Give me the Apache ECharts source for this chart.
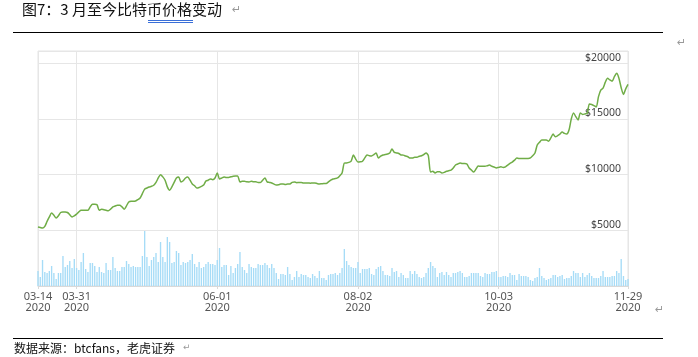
<!DOCTYPE html>
<html><head><meta charset="utf-8">
<script src="https://cdn.jsdelivr.net/npm/echarts@6/dist/echarts.min.js"></script>
<style>html,body{margin:0;padding:0;background:#fff}#c{width:698px;height:357px}</style>
</head><body><div id="c"></div>
<script>
// ---- data ----
const startDate = '2020-03-14';
const dayCount = 261;
const tickLabels = ['03-14','03-31','06-01','08-02','10-03','11-29'];
const priceUSD = [
5300,5250,5200,5350,5800,6200,6550,6350,6100,6300,
6600,6650,6650,6600,6400,6200,6300,6450,6650,6800,
6800,6800,6800,7100,7350,7350,7300,6800,6900,6850,
6800,6750,6900,7100,7180,7250,7250,7100,6900,7200,
7540,7600,7600,7630,7750,7900,8300,8700,8800,8890,
8950,9050,9300,9700,10000,9800,9500,8900,8600,8900,
9300,9700,9790,9340,9450,9700,9790,9500,9160,9000,
8800,8850,8950,9070,9430,9500,9610,9550,9700,10150,
9610,9700,9790,9750,9750,9800,9850,9880,9880,9340,
9400,9400,9350,9340,9400,9350,9350,9300,9300,9500,
9700,9350,9300,9250,9150,9070,9100,9150,9150,9120,
9150,9160,9300,9340,9280,9300,9300,9250,9250,9250,
9230,9250,9250,9200,9160,9180,9200,9200,9350,9500,
9610,9650,9700,9900,10150,11040,11050,11100,11220,11760,
11400,11130,11150,11200,11500,11760,11700,11670,11800,11940,
11490,11650,11760,11800,11850,11940,12300,12000,11950,11900,
11760,11750,11670,11600,11490,11500,11550,11550,11650,11700,
11800,11940,11700,10230,10300,10150,10250,10250,10150,10200,
10300,10350,10410,10600,10860,10950,11040,11000,11000,10950,
10600,10410,10230,10500,10770,10750,10750,10750,10800,10860,
10750,10680,10600,10650,10700,10650,10700,10860,11000,11130,
11300,11490,11450,11450,11450,11450,11450,11500,11700,11940,
12660,12900,13100,13100,13100,13000,13300,13640,13400,13500,
13640,13820,13700,13640,14000,15000,15540,15200,14910,15540,
15400,15450,15500,16340,16300,16200,16070,17000,17590,17770,
18300,18660,18500,18390,18800,19100,18660,17800,17200,17700,
18100
];
const volumeMarch_Jun = [
15,9,26,14,13,15,20,13,7,13, 13,30,19,21,25,18,27,18,16,24,
33,17,14,23,23,20,14,19,14,13, 23,16,16,29,18,15,15,19,19,25,
22,19,20,19,19,19,30,55,29,20, 26,29,33,24,44,29,24,49,44,23,
24,35,33,21,24,23,24,26,32,22, 19,24,18,19,22,24,22,22,21,26,
38,19,21,21,11,20,13,18,22,34, 19,16,13,22
];
const volumeJun_Oct = [
19,18,18,22,21,21,23,21,18,22, 18,13,7,12,12,11,19,12,6,9,
15,9,12,11,11,9,8,12,10,8, 15,8,8,6,11,12,12,13,11,13,
18,37,25,21,19,18,18,24,13,17, 17,17,18,12,11,17,19,20,15,11,
11,10,18,14,15,9,13,11,8,8, 15,12,15,12,9,8,9,13,18,24,
20,18,9,13,14,11,14,11,9,13, 13,14,15,13,9,9,10,13,13,13,
13,10,9,13,12,12,14,14,15,9
];
const volumeOct_Nov = [
9,10,10,9,13,11,11,6,12,10, 10,10,9,6,5,8,9,18,10,8,
6,7,8,11,11,9,10,11,7,8, 8,10,15,13,13,9,13,9,11,13,
10,8,8,8,10,15,9,9,9,10, 10,15,13,27,10,6,7
];
// ---- build ----
const volume = volumeMarch_Jun.concat(volumeJun_Oct, volumeOct_Nov);
const categories = [];
const d0 = new Date(startDate + 'T00:00:00Z');
for (let i = 0; i < dayCount; i++) {
  const d = new Date(d0.getTime() + i * 86400000);
  const mm = String(d.getUTCMonth() + 1).padStart(2, '0');
  const dd = String(d.getUTCDate()).padStart(2, '0');
  categories.push(d.getUTCFullYear() + '-' + mm + '-' + dd);
}
const isTick = (idx) => tickLabels.includes(categories[idx].slice(5));

const chart = echarts.init(document.getElementById('c'), null, {renderer: 'canvas'});
const gray = '#999';
chart.setOption({
  animation: false,
  backgroundColor: '#fff',
  grid: {left: 38, right: 70, top: 51, bottom: 71, show: true, borderColor: '#e4e4e4', borderWidth: 1},
  xAxis: {
    type: 'category', data: categories, boundaryGap: false,
    axisLine: {lineStyle: {color: '#d9d9d9'}},
    axisTick: {show: true, interval: (i) => isTick(i), length: 3, lineStyle: {color: '#d9d9d9'}},
    splitLine: {show: true, interval: (i) => isTick(i), lineStyle: {color: '#e6e6e6'}},
    axisLabel: {
      interval: (i) => isTick(i), margin: 5, color: '#555', fontSize: 11, lineHeight: 11,
      fontFamily: 'Noto Sans',
      formatter: (v) => v.slice(5) + '\n' + v.slice(0, 4)
    }
  },
  yAxis: [{
    type: 'value', position: 'right', min: 0, max: 21100, interval: 5000,
    axisLine: {show: false}, axisTick: {show: false},
    splitLine: {lineStyle: {color: '#e6e6e6'}},
    axisLabel: {
      inside: true, margin: 7, verticalAlign: 'bottom', color: '#444', fontSize: 10.5,
      fontFamily: 'Noto Sans',
      formatter: (v) => (v > 0 && v % 5000 === 0) ? '$' + v : ''
    }
  }, {
    type: 'value', min: 0, max: 235, show: false, splitLine: {show: false}
  }],
  series: [{
    type: 'bar', yAxisIndex: 1, data: volume, barWidth: '60%',
    itemStyle: {color: '#a6dcf7'}, silent: true
  }, {
    type: 'line', data: priceUSD, symbol: 'none', smooth: 0.25,
    lineStyle: {color: '#70ad47', width: 1.5}, z: 5
  }],
  graphic: [
    {type: 'text', left: 22, top: 2, style: {text: '图7：3 月至今比特币价格变动', font: '15px "Noto Sans CJK SC"', fill: '#111'}},
    {type: 'line', shape: {x1: 148, y1: 20.5, x2: 193, y2: 20.5}, style: {stroke: '#3a6fd8', lineWidth: 1}},
    {type: 'line', shape: {x1: 148, y1: 22.5, x2: 193, y2: 22.5}, style: {stroke: '#3a6fd8', lineWidth: 1}},
    {type: 'text', left: 232, top: 5, style: {text: '↵', font: '11px "DejaVu Sans"', fill: gray}},
    {type: 'line', shape: {x1: 13, y1: 32.5, x2: 663, y2: 32.5}, style: {stroke: '#000', lineWidth: 1}},
    {type: 'text', left: 677, top: 38, style: {text: '↵', font: '11px "DejaVu Sans"', fill: gray}},
    {type: 'text', left: 655, top: 305, style: {text: '↵', font: '11px "DejaVu Sans"', fill: gray}},
    {type: 'line', shape: {x1: 13, y1: 338.5, x2: 663, y2: 338.5}, style: {stroke: '#000', lineWidth: 1}},
    {type: 'text', left: 14, top: 342, style: {text: '数据来源：btcfans，老虎证券', font: '12px "Noto Sans CJK SC"', fill: '#111'}},
    {type: 'text', left: 183, top: 343, style: {text: '↵', font: '9px "DejaVu Sans"', fill: gray}}
  ]
});
</script>
</body></html>
